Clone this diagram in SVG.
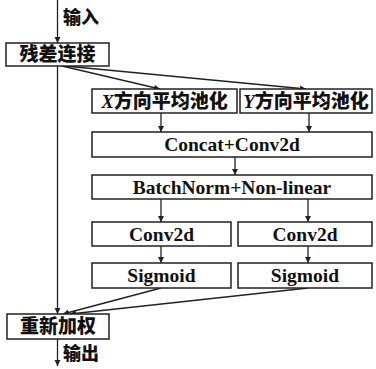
<svg xmlns="http://www.w3.org/2000/svg" width="376" height="369" viewBox="0 0 376 369">
<style>
.box{fill:#fff;stroke:#222;stroke-width:1.5}
.t{font-family:"Liberation Serif","Times New Roman","DejaVu Serif",serif;font-weight:bold;font-size:19.5px;fill:#111;text-anchor:middle}
.c{font-family:"Noto Sans CJK SC",sans-serif;font-weight:900;font-size:19px;fill:#111;text-anchor:middle}
.i{font-family:"Liberation Serif","Times New Roman",serif;font-style:italic;font-weight:bold}
.lbl{font-family:"Noto Sans CJK SC",sans-serif;font-weight:900;font-size:18px;fill:#111}
.ln{fill:none;stroke:#222;stroke-width:1.3;marker-end:url(#ah)}
</style>
<defs>
<marker id="ah" viewBox="0 0 10 10" refX="10" refY="5" markerWidth="6" markerHeight="7" markerUnits="userSpaceOnUse" orient="auto">
<path d="M0,0 L10,5 L0,10 z" fill="#222"/>
</marker>
</defs>
<g id="connectors">
<line class="ln" x1="57.5" y1="0" x2="57.5" y2="43"/>
<line class="ln" x1="57.5" y1="66" x2="57.5" y2="314"/>
<line class="ln" x1="62" y1="66" x2="160" y2="89"/>
<line class="ln" x1="65" y1="66" x2="306" y2="89"/>
<line class="ln" x1="161" y1="113" x2="161" y2="132"/>
<line class="ln" x1="309" y1="113" x2="309" y2="132"/>
<line class="ln" x1="235" y1="157" x2="235" y2="175"/>
<line class="ln" x1="161" y1="199" x2="161" y2="222"/>
<line class="ln" x1="308" y1="199" x2="308" y2="222"/>
<line class="ln" x1="161" y1="246" x2="161" y2="263"/>
<line class="ln" x1="308" y1="246" x2="308" y2="263"/>
<line class="ln" x1="161" y1="288" x2="63" y2="314"/>
<line class="ln" x1="308" y1="288" x2="70" y2="314"/>
<line class="ln" x1="57.5" y1="339" x2="57.5" y2="366"/>
<text class="lbl" x="63" y="24">输入</text>
<text class="lbl" x="63" y="360">输出</text>
</g>
<g id="residual"><rect class="box" x="6" y="43" width="103" height="23"/><text class="c" x="57.5" y="61">残差连接</text></g>
<g id="xpool"><rect class="box" x="92" y="89" width="145" height="24"/><text class="c" x="164.5" y="108"><tspan class="i">X</tspan>方向平均池化</text></g>
<g id="ypool"><rect class="box" x="240" y="89" width="132" height="24"/><text class="c" x="306" y="108"><tspan class="i">Y</tspan>方向平均池化</text></g>
<g id="concat"><rect class="box" x="92" y="132" width="280" height="25"/><text class="t" x="232" y="151">Concat+Conv2d</text></g>
<g id="bn"><rect class="box" x="92" y="175" width="280" height="24"/><text class="t" x="232" y="193.5">BatchNorm+Non-linear</text></g>
<g id="conv-l"><rect class="box" x="92" y="222" width="139" height="24"/><text class="t" x="161.5" y="240.5">Conv2d</text></g>
<g id="conv-r"><rect class="box" x="238" y="222" width="134" height="24"/><text class="t" x="305" y="240.5">Conv2d</text></g>
<g id="sig-l"><rect class="box" x="92" y="263" width="139" height="25"/><text class="t" x="161.5" y="282">Sigmoid</text></g>
<g id="sig-r"><rect class="box" x="238" y="263" width="134" height="25"/><text class="t" x="305" y="282">Sigmoid</text></g>
<g id="reweight"><rect class="box" x="7" y="314" width="102" height="25"/><text class="c" x="58" y="333">重新加权</text></g>
</svg>
